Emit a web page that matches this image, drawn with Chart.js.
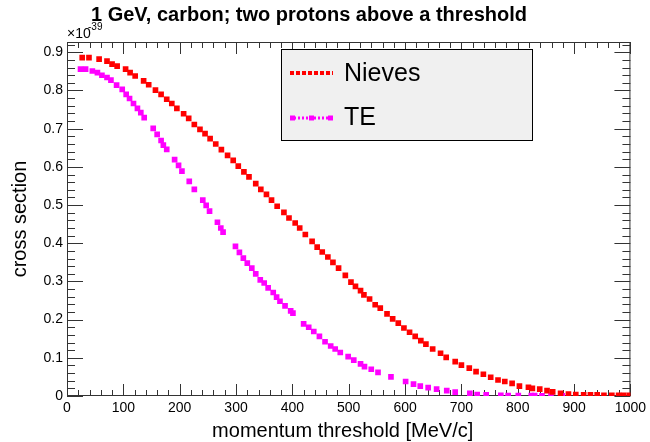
<!DOCTYPE html>
<html>
<head>
<meta charset="utf-8">
<script src="https://cdn.jsdelivr.net/npm/chart.js@4.4.0/dist/chart.umd.min.js"></script>
<style>
html, body { margin: 0; padding: 0; background: #fff; }
#wrap { width: 650px; height: 442px; position: relative; }
</style>
</head>
<body>
<div id="wrap"><canvas id="my_graph"></canvas></div>
<script>
// values, cross section in units of 1e-39
let nieves_x = [27, 39, 57, 71, 80, 89, 104, 112, 121, 136, 145, 157, 167, 177, 186, 195, 207, 216, 226, 236,
    245, 254, 264, 274, 285, 295, 304, 314, 323, 335, 344, 354, 363, 373, 385, 394, 405, 413, 423, 435,
    444, 453, 463, 472, 482, 494, 504, 512, 521, 527, 537, 547, 556, 568, 578, 588, 598, 608, 618, 628,
    637, 649, 663, 673, 689, 700, 714, 726, 739, 752, 765, 777, 790, 803, 819, 826, 839, 852, 862, 876,
    890, 903, 917, 929, 941, 953, 967, 979, 988, 998];
let nieves_y = [0.886, 0.886, 0.882, 0.877, 0.869, 0.864, 0.856, 0.847, 0.838, 0.825, 0.815, 0.801, 0.790, 0.777, 0.766, 0.753, 0.739, 0.727, 0.711, 0.698,
    0.687, 0.674, 0.660, 0.645, 0.630, 0.617, 0.602, 0.587, 0.574, 0.556, 0.541, 0.528, 0.513, 0.497, 0.481, 0.466, 0.453, 0.440, 0.423, 0.405,
    0.390, 0.377, 0.364, 0.350, 0.335, 0.316, 0.298, 0.287, 0.276, 0.265, 0.254, 0.239, 0.230, 0.215, 0.202, 0.191, 0.178, 0.167, 0.156, 0.145,
    0.136, 0.123, 0.112, 0.101, 0.090, 0.081, 0.073, 0.064, 0.057, 0.049, 0.042, 0.038, 0.033, 0.026, 0.023, 0.020, 0.018, 0.014, 0.011, 0.007,
    0.005, 0.004, 0.003, 0.003, 0.003, 0.002, 0.002, 0.002, 0.002, 0.002];

let te_x = [24, 33, 45, 54, 62, 71, 78, 88, 98, 105, 111, 118, 125, 131, 137, 153, 160, 167, 171, 177,
    191, 198, 204, 217, 226, 241, 247, 253, 267, 273, 277, 299, 306, 313, 320, 328, 335, 343, 350, 357,
    366, 372, 378, 387, 397, 401, 420, 429, 438, 448, 458, 468, 476, 485, 499, 509, 521, 528, 540, 552,
    575, 601, 615, 627, 641, 656, 674, 689, 715, 728, 744, 770, 783, 801, 824, 830, 843, 859, 879];
let te_y = [0.856, 0.856, 0.851, 0.847, 0.840, 0.834, 0.827, 0.814, 0.803, 0.790, 0.779, 0.766, 0.753, 0.742, 0.729, 0.701, 0.685, 0.669, 0.657, 0.646,
    0.619, 0.604, 0.589, 0.562, 0.541, 0.513, 0.499, 0.484, 0.455, 0.440, 0.429, 0.392, 0.376, 0.361, 0.348, 0.335, 0.320, 0.304, 0.296, 0.283,
    0.271, 0.259, 0.248, 0.236, 0.223, 0.217, 0.189, 0.180, 0.169, 0.156, 0.142, 0.131, 0.123, 0.114, 0.103, 0.094, 0.084, 0.077, 0.070, 0.062,
    0.050, 0.038, 0.031, 0.026, 0.022, 0.018, 0.014, 0.010, 0.007, 0.004, 0.003, 0.002, 0.001, 0.001, 0.001, 0.001, 0.0005, 0.0005, 0.0003];

let series_labels = ['Nieves', 'TE'];
let series_colors = ['#ff0000', '#ff00ff'];
let x_min = 0, x_max = 1000, x_step = 100;
let y_min = 0, y_max = 0.927, y_step = 0.1;
let font_name = "'Liberation Sans', Arial, sans-serif";

let to_points = (xs, ys) => xs.map((x, i) => ({ x: x, y: ys[i] }));

// ROOT style frame with inward ticks on all four sides
let frame_plugin = {
    id: 'frame',
    beforeDatasetsDraw(chart) {
        const c = chart.ctx, a = chart.chartArea;
        const xs = chart.scales.x, ys = chart.scales.y;
        c.save();
        c.strokeStyle = '#333';
        c.lineWidth = 1;
        c.strokeRect(a.left + 0.5, a.top + 0.5, a.right - a.left - 1, a.bottom - a.top - 1);
        c.beginPath();
        for (let i = 0; i * 20 <= x_max; i++) {
            let px = Math.round(xs.getPixelForValue(i * 20)) + 0.5;
            let len = i % 5 === 0 ? 12 : 6;
            c.moveTo(px, a.bottom); c.lineTo(px, a.bottom - len);
            c.moveTo(px, a.top); c.lineTo(px, a.top + len);
        }
        for (let i = 0; i * 0.02 <= y_max; i++) {
            let py = Math.round(ys.getPixelForValue(i * 0.02)) + 0.5;
            let len = i % 5 === 0 ? 16 : 8;
            c.moveTo(a.left, py); c.lineTo(a.left + len, py);
            c.moveTo(a.right, py); c.lineTo(a.right - len, py);
        }
        c.stroke();
        c.restore();
    },
    afterDraw(chart) {
        const c = chart.ctx, a = chart.chartArea;
        c.save();
        c.fillStyle = '#000';
        c.textBaseline = 'alphabetic';
        // title
        c.font = "bold 20px " + font_name;
        c.textAlign = 'left';
        c.fillText('1 GeV, carbon; two protons above a threshold', 91, 21);
        // exponent
        c.font = "14px " + font_name;
        c.fillText('\u00d710', a.left, 38);
        c.font = "10px " + font_name;
        c.fillText('-39', a.left + 21, 30);
        // axis titles
        c.font = "20px " + font_name;
        c.textAlign = 'center';
        c.fillText('momentum threshold [MeV/c]', (a.left + a.right) / 2 - 6, 437);
        c.save();
        c.translate(26, (a.top + a.bottom) / 2);
        c.rotate(-Math.PI / 2);
        c.fillText('cross section', 0, 0);
        c.restore();
        // legend box
        c.fillStyle = '#f0f0f0';
        c.fillRect(281, 49, 252, 92);
        c.strokeStyle = '#000';
        c.lineWidth = 1;
        c.strokeRect(281.5, 49.5, 251, 91);
        // Nieves sample
        c.strokeStyle = series_colors[0];
        c.lineWidth = 4;
        c.setLineDash([4, 2]);
        c.beginPath(); c.moveTo(290, 73); c.lineTo(333, 73); c.stroke();
        // TE sample
        c.strokeStyle = series_colors[1];
        c.lineWidth = 3;
        c.setLineDash([2, 2]);
        c.beginPath(); c.moveTo(290, 118); c.lineTo(333, 118); c.stroke();
        c.setLineDash([]);
        c.fillStyle = series_colors[1];
        [290, 309, 328].forEach(px => c.fillRect(px, 115.5, 5, 5));
        c.fillStyle = '#000';
        c.font = "25px " + font_name;
        c.textAlign = 'left';
        c.textBaseline = 'middle';
        c.fillText(series_labels[0], 344, 74);
        c.fillText(series_labels[1], 344, 118);
        c.restore();
    }
};

var ctx = document.getElementById('my_graph').getContext('2d');
var my_graph = new Chart(ctx, {
    type: 'scatter',
    data: {
        datasets: [{
            label: series_labels[0],
            data: to_points(nieves_x, nieves_y),
            pointStyle: 'rect',
            pointRadius: 4,
            borderWidth: 0,
            backgroundColor: series_colors[0]
        }, {
            label: series_labels[1],
            data: to_points(te_x, te_y),
            pointStyle: 'rect',
            pointRadius: 4,
            borderWidth: 0,
            backgroundColor: series_colors[1]
        }]
    },
    options: {
        responsive: true,
        maintainAspectRatio: false,
        animation: false,
        layout: {
            padding: { top: 42, right: 17, left: 0, bottom: 0 }
        },
        plugins: {
            legend: { display: false },
            tooltip: { enabled: false }
        },
        scales: {
            x: {
                type: 'linear',
                min: x_min,
                max: x_max,
                afterFit: s => { s.height = 46; },
                grid: { display: false, drawTicks: false },
                border: { display: false },
                ticks: {
                    stepSize: x_step,
                    padding: 4,
                    color: '#000',
                    font: { family: font_name, size: 14 },
                    maxRotation: 0,
                    autoSkip: false,
                    callback: v => String(v)
                }
            },
            y: {
                type: 'linear',
                min: y_min,
                max: y_max,
                afterFit: s => { s.width = 67; },
                grid: { display: false, drawTicks: false },
                border: { display: false },
                ticks: {
                    stepSize: y_step,
                    includeBounds: false,
                    padding: 4,
                    color: '#000',
                    font: { family: font_name, size: 14 },
                    callback: v => v === 0 ? '0' : v.toFixed(1)
                }
            }
        }
    },
    plugins: [frame_plugin]
});
</script>
</body>
</html>
